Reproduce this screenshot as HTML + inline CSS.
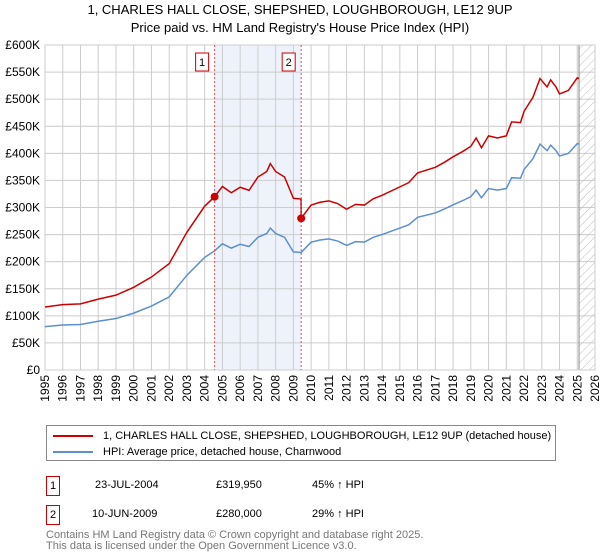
<!DOCTYPE html>
<html><head><meta charset="utf-8"><style>
body{margin:0;background:#fff;font-family:"Liberation Sans","DejaVu Sans",sans-serif;}
#wrap{position:relative;width:600px;height:560px;overflow:hidden}
.t{position:absolute;white-space:nowrap;color:#000}
</style></head><body><div id="wrap">
<div class="t" style="left:0;width:600px;text-align:center;top:2px;font-size:13px">1, CHARLES HALL CLOSE, SHEPSHED, LOUGHBOROUGH, LE12 9UP</div>
<div class="t" style="left:0;width:600px;text-align:center;top:20px;font-size:13px">Price paid vs. HM Land Registry's House Price Index (HPI)</div>
<svg id="chart" width="600" height="420" style="position:absolute;left:0;top:0" font-family="Liberation Sans, DejaVu Sans, sans-serif"></svg>
<div style="position:absolute;left:46px;top:425px;width:508px;height:34px;border:1px solid #888;font-size:11px">
<div style="position:absolute;left:6px;top:4px"><span style="display:inline-block;width:40px;height:2px;background:#cc0000;vertical-align:middle;margin-right:10px"></span>1, CHARLES HALL CLOSE, SHEPSHED, LOUGHBOROUGH, LE12 9UP (detached house)</div>
<div style="position:absolute;left:6px;top:20px"><span style="display:inline-block;width:40px;height:2px;background:#5b8fd0;vertical-align:middle;margin-right:10px"></span>HPI: Average price, detached house, Charnwood</div>
</div>
<div style="position:absolute;left:0;top:476px;font-size:11px;width:600px">
<div style="position:absolute;left:46px;top:0;width:12px;height:18px;border:1px solid #c00;text-align:center;line-height:18px">1</div>
<div class="t" style="left:95px;top:3px">23-JUL-2004</div><div class="t" style="left:216px;top:3px">£319,950</div><div class="t" style="left:312px;top:3px">45% ↑ HPI</div></div>
<div style="position:absolute;left:0;top:505px;font-size:11px;width:600px">
<div style="position:absolute;left:46px;top:0;width:12px;height:18px;border:1px solid #c00;text-align:center;line-height:18px">2</div>
<div class="t" style="left:92px;top:3px">10-JUN-2009</div><div class="t" style="left:216px;top:3px">£280,000</div><div class="t" style="left:312px;top:3px">29% ↑ HPI</div></div>
<div class="t" style="left:46px;top:530px;font-size:11px;color:#777;line-height:11px">Contains HM Land Registry data © Crown copyright and database right 2025.<br>This data is licensed under the Open Government Licence v3.0.</div>
</div>
<script>
const hpiYears=[1995,1996,1997,1998,1999,2000,2001,2002,2003,2004,2004.56,2005,2005.5,2006,2006.5,2007,2007.5,2007.7,2008,2008.5,2009,2009.44,2010,2010.5,2011,2011.5,2012,2012.5,2013,2013.5,2014,2015,2015.5,2016,2017,2017.5,2018,2018.5,2019,2019.3,2019.6,2020,2020.5,2021,2021.3,2021.8,2022,2022.5,2022.9,2023.3,2023.5,2023.8,2024,2024.5,2025,2025.1];
const hpiValues=[80,83,84,90,95,105,118,135,175,208,220,233,225,232,228,245,252,262,252,245,218,217,236,240,242,238,230,237,236,245,250,262,268,282,290,297,305,312,320,332,318,335,332,335,355,354,370,390,417,405,415,405,395,400,418,417];
const saleYears=[2004.56,2009.44];
const salePrices=[319.95,280];
const yTicks=[0,50,100,150,200,250,300,350,400,450,500,550,600];
const yearTicks=[];for(let y=1995;y<=2026;y++)yearTicks.push(y);
const X0=45,X1=595,Y0=370,Y1=45;
const xs=v=>X0+(v-1995)/(2026-1995)*(X1-X0);
const ys=v=>Y0-v/600*(Y0-Y1);
const svg=document.getElementById('chart');const NS='http://www.w3.org/2000/svg';
function mk(t,a,p){const e=document.createElementNS(NS,t);for(const k in a)e.setAttribute(k,a[k]);(p||svg).appendChild(e);return e;}
let e;
e=mk('rect',{x:xs(saleYears[0]),y:Y1,width:xs(saleYears[1])-xs(saleYears[0]),height:Y0-Y1,fill:'#eef3fb'});


yearTicks.forEach(y=>{e=mk('line',{x1:xs(y),x2:xs(y),y1:Y1,y2:Y0,stroke:'#cccccc'});


e=mk('text',{x:0,y:0,'font-size':12,'text-anchor':'end',transform:`translate(${xs(y)+4},${Y0+5}) rotate(-90)`});e.textContent=y;

});
yTicks.forEach(v=>{e=mk('line',{x1:X0,x2:X1,y1:ys(v),y2:ys(v),stroke:'#cccccc'});


e=mk('text',{x:X0-5,y:ys(v)+4,'font-size':12,'text-anchor':'end'});e.textContent='£'+(v?v+'K':'0');

});
const defs=mk('defs',{});const pat=mk('pattern',{id:'h',width:6,height:6,patternUnits:'userSpaceOnUse',patternTransform:'rotate(45)'},defs);
mk('line',{x1:0,y1:0,x2:0,y2:6,stroke:'#bbb'},pat);
e=mk('rect',{x:xs(2025.1),y:Y1,width:X1-xs(2025.1),height:Y0-Y1,fill:'url(#h)'});


e=mk('line',{x1:xs(2025.1),x2:xs(2025.1),y1:Y1,y2:Y0,stroke:'#888'});


e=mk('rect',{x:X0,y:Y1,width:X1-X0,height:Y0-Y1,fill:'none',stroke:'#ccc'});


function hpiAt(t){for(let i=0;i<hpiYears.length-1;i++)if(t<=hpiYears[i+1])return hpiValues[i]+(hpiValues[i+1]-hpiValues[i])*(t-hpiYears[i])/(hpiYears[i+1]-hpiYears[i]);return hpiValues[hpiValues.length-1];}
e=mk('polyline',{points:hpiYears.map((y,i)=>xs(y)+','+ys(hpiValues[i])).join(' '),fill:'none',stroke:'#5b8fd0','stroke-width':1.5});


const r1=salePrices[0]/hpiAt(saleYears[0]),r2=salePrices[1]/hpiAt(saleYears[1]);
const pts=[];hpiYears.forEach((y,i)=>{if(y<saleYears[1])pts.push([y,hpiValues[i]*r1]);});
pts.push([saleYears[1]-0.01,hpiAt(saleYears[1])*r1]);
hpiYears.forEach((y,i)=>{if(y>=saleYears[1])pts.push([y,hpiValues[i]*r2]);});
e=mk('polyline',{points:pts.map(p=>xs(p[0])+','+ys(p[1])).join(' '),fill:'none',stroke:'#cc0000','stroke-width':1.5});


saleYears.forEach((y,i)=>{
e=mk('line',{x1:xs(y),x2:xs(y),y1:Y1,y2:Y0,stroke:'#e05050','stroke-dasharray':'2,2'});


e=mk('circle',{cx:xs(y),cy:ys(salePrices[i]),r:4,fill:'#cc0000'});


e=mk('rect',{x:xs(y)-19,y:53,width:13,height:18,fill:'#fff',stroke:'#c00'});


e=mk('text',{x:xs(y)-12.5,y:66,'font-size':11,'text-anchor':'middle'});e.textContent=i+1;

});
</script></body></html>
